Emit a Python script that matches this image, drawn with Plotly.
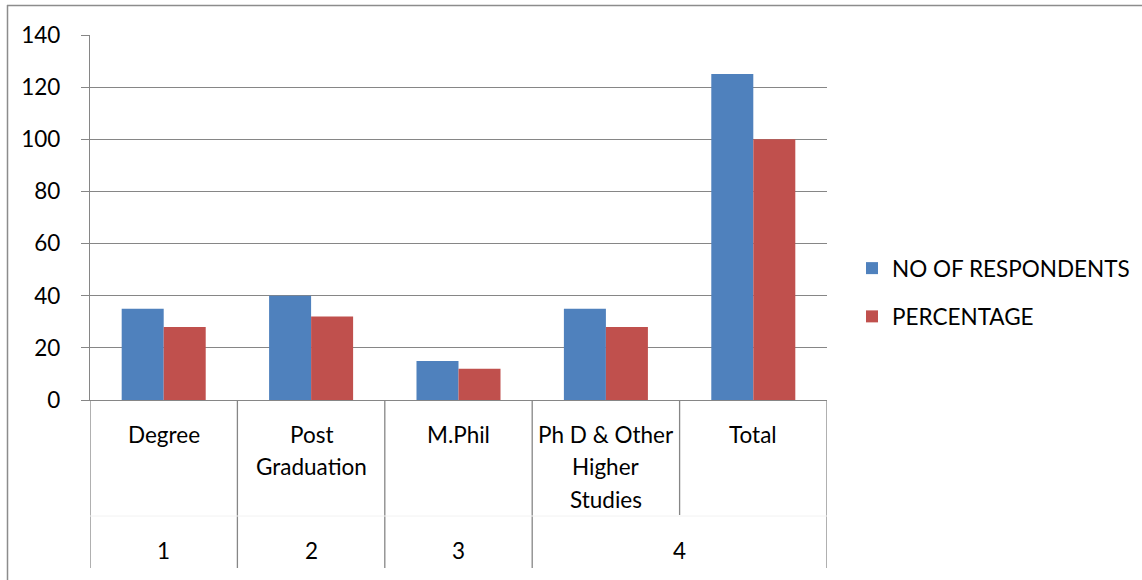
import plotly.graph_objects as go

categories = ["Degree", "Post Graduation", "M.Phil", "Ph D & Other Higher Studies", "Total"]
category_lines = [["Degree"], ["Post", "Graduation"], ["M.Phil"], ["Ph D & Other", "Higher", "Studies"], ["Total"]]
groups = ["1", "2", "3", "4"]
group_spans = [(0, 0), (1, 1), (2, 2), (3, 4)]
respondents = [35, 40, 15, 35, 125]
percentage = [28, 32, 12, 28, 100]
y_ticks = [0, 20, 40, 60, 80, 100, 120, 140]

FONT = "Lato"
FS = 22.5
GRID = "#868686"
W, H = 1142, 580
L, R, T, B = 90, 827, 35, 400
pw, ph = R - L, B - T

def py(pix):
    return (B - pix) / ph

def px(pix):
    return (pix - L) / pw

fig = go.Figure()
fig.add_trace(go.Bar(x=categories, y=respondents, name="NO OF RESPONDENTS",
                     marker=dict(color="#4F81BD", line=dict(width=0)), legendgroup="a"))
fig.add_trace(go.Bar(x=categories, y=percentage, name="PERCENTAGE",
                     marker=dict(color="#C0504D", line=dict(width=0)), legendgroup="b"))

shapes = []
n = len(categories)
boundaries = [i - 0.5 for i in range(n + 1)]
group_bounds = set([s - 0.5 for s, e in group_spans] + [group_spans[-1][1] + 0.5])
for b in boundaries:
    y_end = py(568) if b in group_bounds else py(515)
    shapes.append(dict(type="line", xref="x", yref="paper", x0=b, x1=b, y0=0, y1=y_end,
                       line=dict(color=GRID, width=1.3)))
shapes.append(dict(type="line", xref="paper", yref="paper", x0=0, x1=1, y0=py(516), y1=py(516),
                   line=dict(color="#f2f2f2", width=1)))
# outer chart border (top and left)
shapes.append(dict(type="line", xref="paper", yref="paper", x0=px(7), x1=px(1150), y0=py(5.5), y1=py(5.5),
                   line=dict(color="#8c8c8c", width=1.5)))
shapes.append(dict(type="line", xref="paper", yref="paper", x0=px(7.5), x1=px(7.5), y0=py(5), y1=py(590),
                   line=dict(color="#8c8c8c", width=1.5)))

annotations = []
line_h = 32.5
for i, lines in enumerate(category_lines):
    for j, t in enumerate(lines):
        annotations.append(dict(x=i, y=py(434 + j * line_h), xref="x", yref="paper", text=t,
                                showarrow=False, xanchor="center", yanchor="middle",
                                font=dict(family=FONT, size=FS, color="black")))
for g, (s, e) in zip(groups, group_spans):
    annotations.append(dict(x=(s + e) / 2, y=py(550), xref="x", yref="paper", text=g,
                            showarrow=False, xanchor="center", yanchor="middle",
                            font=dict(family=FONT, size=FS, color="black")))

fig.update_layout(
    width=W, height=H,
    margin=dict(l=L, r=W - R, t=T, b=H - B, pad=0, autoexpand=False),
    paper_bgcolor="white", plot_bgcolor="white",
    barmode="group", bargap=0.43, bargroupgap=0,
    showlegend=True,
    legend=dict(x=px(852), y=py(292.5), xanchor="left", yanchor="middle",
                font=dict(family=FONT, size=FS, color="black"),
                tracegroupgap=16, bgcolor="rgba(0,0,0,0)"),
    shapes=shapes, annotations=annotations,
    xaxis=dict(range=[-0.5, n - 0.5], showticklabels=False, showgrid=False, zeroline=False,
               showline=True, linecolor=GRID, linewidth=1.3, ticks=""),
    yaxis=dict(range=[0, 140], tickvals=y_ticks, showgrid=True, gridcolor=GRID, gridwidth=1.3,
               zeroline=False, showline=True, linecolor=GRID, linewidth=1.3,
               ticks="outside", ticklen=8, tickcolor=GRID, tickwidth=1.3, ticklabelstandoff=16,
               tickfont=dict(family=FONT, size=FS, color="black")),
)

fig.write_html("out.html", config={"displayModeBar": False},
               post_script="document.body.style.margin='0';document.body.style.overflow='hidden';")
